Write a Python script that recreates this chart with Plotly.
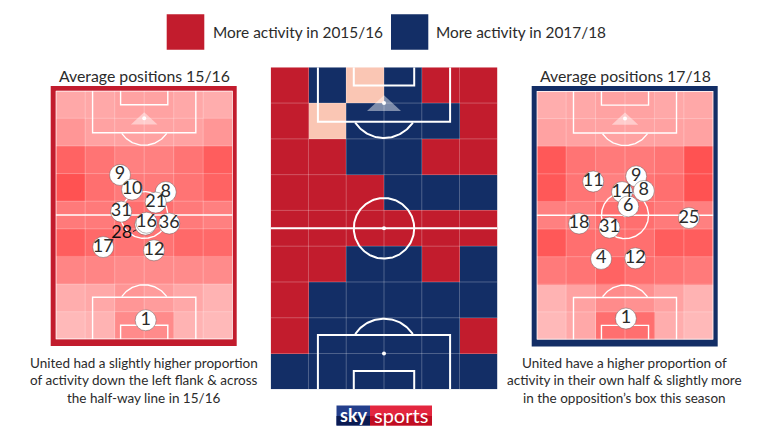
import numpy as np
import plotly.graph_objects as go

RED = "#c21c2d"
NAVY = "#132e66"
PEACH = "#fac6b4"
FONT = "Lato"
TEXT = "#2b2b2b"

# activity grids, 9 rows top to bottom, 6 columns
heat_1516 = [
    [0.25, 0.25, 0.30, 0.30, 0.25, 0.20],
    [0.40, 0.30, 0.30, 0.30, 0.30, 0.40],
    [0.85, 0.70, 0.60, 0.60, 0.70, 0.90],
    [1.00, 0.75, 0.65, 0.65, 0.70, 0.85],
    [0.65, 0.65, 0.75, 0.75, 0.65, 0.60],
    [0.90, 0.80, 0.70, 0.70, 0.80, 0.80],
    [0.55, 0.55, 0.50, 0.50, 0.50, 0.50],
    [0.20, 0.25, 0.40, 0.35, 0.25, 0.15],
    [0.10, 0.15, 0.50, 0.50, 0.15, 0.10],
]
heat_1718 = [
    [0.20, 0.25, 0.30, 0.30, 0.25, 0.25],
    [0.30, 0.30, 0.30, 0.30, 0.30, 0.30],
    [0.95, 0.70, 0.65, 0.65, 0.70, 1.00],
    [0.95, 0.70, 0.60, 0.70, 0.75, 1.00],
    [0.60, 0.60, 0.75, 0.75, 0.65, 0.60],
    [0.95, 0.75, 0.75, 0.75, 0.90, 0.90],
    [0.65, 0.70, 0.85, 0.75, 0.70, 0.65],
    [0.15, 0.30, 0.50, 0.45, 0.30, 0.15],
    [0.10, 0.25, 0.75, 0.75, 0.20, 0.10],
]
# 1 = more in 15/16, 0 = more in 17/18, 0.5 = no real change
diff_grid = [
    [1, 0, 0.5, 0, 1, 1],
    [1, 0.5, 0, 0, 0, 1],
    [1, 1, 0, 0, 1, 1],
    [1, 1, 1, 0, 0, 0],
    [1, 1, 1, 1, 1, 1],
    [1, 1, 0, 0, 1, 0],
    [1, 0, 0, 0, 0, 0],
    [1, 0, 0, 0, 0, 1],
    [0, 0, 0, 0, 0, 0],
]
col_centres = [0.5, 1.5, 2.5, 3.5, 4.5, 5.5]
row_centres = [0.5, 1.5, 2.5, 3.5, 4.5, 5.5, 6.5, 7.5, 8.5]

# average positions in grid units
shirts_1516 = ["28", "9", "10", "8", "21", "31", "16", "36", "17", "12", "1"]
x_1516 = [3.04, 2.18, 2.59, 3.73, 3.39, 2.22, 3.08, 3.85, 1.61, 3.33, 3.05]
y_1516 = [4.85, 3.05, 3.58, 3.67, 4.05, 4.38, 4.78, 4.81, 5.66, 5.78, 8.31]
shirts_1718 = ["11", "9", "8", "14", "6", "18", "31", "25", "4", "12", "1"]
x_1718 = [1.92, 3.38, 3.64, 2.90, 3.11, 1.44, 2.47, 5.17, 2.19, 3.35, 3.03]
y_1718 = [3.28, 3.09, 3.62, 3.66, 4.18, 4.80, 4.95, 4.60, 6.08, 6.06, 8.24]

caption_left = ["United had a slightly higher proportion", "of activity down the left flank &amp; across", "the half-way line in 15/16"]
caption_right = ["United have a higher proportion of", "activity in their own half &amp; slightly more", "in the opposition’s box this season"]

W, H = 768, 432


def px(x):
    return x / W


def py(y):
    return 1 - y / H


def add_pitch(fig, ax, line_w):
    xa, ya = ("x" + ax, "y" + ax)

    def line(xs, ys, width=line_w, color="white"):
        fig.add_trace(go.Scatter(x=xs, y=ys, mode="lines", xaxis=xa, yaxis=ya,
                                 line=dict(color=color, width=width), hoverinfo="skip",
                                 showlegend=False, cliponaxis=False))

    faint = "rgba(255,255,255,0.25)"
    for c in range(1, 6):
        line([c, c], [0, 9], 1, faint)
    for r in range(1, 9):
        line([0, 6], [r, r], 1, faint)

    # triangle near the top penalty spot
    fig.add_trace(go.Scatter(x=[2.55, 3, 3.45, 2.55], y=[1.22, 0.78, 1.22, 1.22], mode="lines",
                             fill="toself", fillcolor="rgba(255,255,255,0.45)", line=dict(width=0),
                             xaxis=xa, yaxis=ya, hoverinfo="skip", showlegend=False))

    line([0, 6], [4.5, 4.5])
    line([1.25, 1.25, 4.75, 4.75], [0, 1.52, 1.52, 0])
    line([2.2, 2.2, 3.8, 3.8], [0, 0.51, 0.51, 0])
    line([1.25, 1.25, 4.75, 4.75], [9, 7.48, 7.48, 9])
    line([2.2, 2.2, 3.8, 3.8], [9, 8.49, 8.49, 9])
    if ax != "2":
        line([0, 6, 6, 0, 0], [0, 0, 9, 9, 0])

    t = np.linspace(0, 2 * np.pi, 181)
    line(3 + 0.8 * np.cos(t), 4.5 + 0.847 * np.sin(t))
    ax_x, ax_y = 3 + 0.92 * np.cos(t), 0.975 * np.sin(t)
    top = ax_y + 1 > 1.52
    order = np.argsort(ax_x[top])
    line(ax_x[top][order], (ax_y + 1)[top][order])
    bottom = ax_y + 8 < 7.48
    order = np.argsort(ax_x[bottom])
    line(ax_x[bottom][order], (ax_y + 8)[bottom][order])

    fig.add_trace(go.Scatter(x=[3, 3, 3], y=[1, 4.5, 8], mode="markers", xaxis=xa, yaxis=ya,
                             marker=dict(color="white", size=4), hoverinfo="skip", showlegend=False))


def add_players(fig, ax, xs, ys, labels):
    fig.add_trace(go.Scatter(x=xs, y=ys, text=labels, mode="markers+text", textposition="middle center",
                             xaxis="x" + ax, yaxis="y" + ax,
                             marker=dict(color="white", size=21, line=dict(color="rgba(90,90,90,0.45)", width=1)),
                             textfont=dict(family=FONT, size=18, color=TEXT),
                             hoverinfo="skip", showlegend=False))


fig = go.Figure()

pink_scale = [[0, "#ffc4c4"], [1, "#ff5252"]]
diff_scale = [[0, NAVY], [0.5, PEACH], [1, RED]]
panels = [("", heat_1516, pink_scale), ("2", diff_grid, diff_scale), ("3", heat_1718, pink_scale)]
for ax, grid, scale in panels:
    fig.add_trace(go.Heatmap(z=grid, x=col_centres, y=row_centres, colorscale=scale, zmin=0, zmax=1,
                             showscale=False, hoverinfo="skip", xaxis="x" + ax, yaxis="y" + ax))
    add_pitch(fig, ax, 2 if ax == "2" else 1.4)

# 28 sits behind 16, its label is pulled out with a leader line
fig.add_trace(go.Scatter(x=[2.62, 3.0], y=[5.1, 4.88], mode="lines", line=dict(color="#222222", width=1),
                         hoverinfo="skip", showlegend=False))
add_players(fig, "", x_1516, y_1516, ["" if s == "28" else s for s in shirts_1516])
fig.add_trace(go.Scatter(x=[2.24], y=[5.16], text=[shirts_1516[0]], mode="text", textposition="middle center",
                         textfont=dict(family=FONT, size=18, color="#111111"), hoverinfo="skip", showlegend=False))
add_players(fig, "3", x_1718, y_1718, shirts_1718)


def rect(x0, y0, x1, y1, color):
    return dict(type="rect", xref="paper", yref="paper", x0=px(x0), x1=px(x1), y0=py(y0), y1=py(y1),
                fillcolor=color, line=dict(width=0), layer="below")


shapes = [
    rect(50.7, 86, 236.7, 346, RED),
    rect(531.7, 86, 717.7, 346.5, NAVY),
    rect(166.7, 14.3, 204.3, 49.7, RED),
    rect(391, 14.3, 428.3, 49.7, NAVY),
    rect(336.5, 405.5, 370, 425.5, "#243f8c"),
    rect(336.5, 416, 370, 425.5, "#0a1a52"),
    rect(370, 405.5, 432, 425.5, "#e3263f"),
    rect(370, 416, 432, 425.5, "#c00d22"),
]


def note(x, y, text, size=16, anchor="center", **kw):
    return dict(xref="paper", yref="paper", x=px(x), y=py(y), text=text, showarrow=False, xanchor=anchor,
                yanchor="middle", font=dict(family=FONT, size=size, color=kw.pop("color", TEXT)), **kw)


annotations = [
    note(211, 32, "More activity in 2015/16", 15.4, "left"),
    note(434, 32, "More activity in 2017/18", 15.4, "left"),
    note(144, 75, "Average positions 15/16", 15.8),
    note(625, 75, "Average positions 17/18", 15.8),
    note(354, 414.5, "<b>sky</b>", 18, color="white"),
    note(400.5, 414.5, "sports", 20, color="white"),
]
for i, (left, right) in enumerate(zip(caption_left, caption_right)):
    annotations.append(note(143.5, 363 + 17.4 * i, left, 13.5))
    annotations.append(note(624.5, 363 + 17.4 * i, right, 13.5))

hidden = dict(visible=False, showgrid=False, zeroline=False)
fig.update_layout(
    width=W, height=H,
    margin=dict(l=0, r=0, t=0, b=0),
    paper_bgcolor="white",
    plot_bgcolor="white",
    showlegend=False,
    shapes=shapes,
    annotations=annotations,
    xaxis=dict(domain=[px(55.7), px(232.7)], range=[0, 6], anchor="y", **hidden),
    yaxis=dict(domain=[py(339.3), py(90.7)], range=[9, 0], anchor="x", **hidden),
    xaxis2=dict(domain=[px(270.7), px(497.3)], range=[0, 6], anchor="y2", **hidden),
    yaxis2=dict(domain=[py(389.3), py(67.3)], range=[9, 0], anchor="x2", **hidden),
    xaxis3=dict(domain=[px(536.7), px(713.3)], range=[0, 6], anchor="y3", **hidden),
    yaxis3=dict(domain=[py(339.5), py(91)], range=[9, 0], anchor="x3", **hidden),
)

# the page's default body margin would push everything 8px in
fig.write_html("out.html", config=dict(displayModeBar=False), post_script="document.body.style.margin='0';")
